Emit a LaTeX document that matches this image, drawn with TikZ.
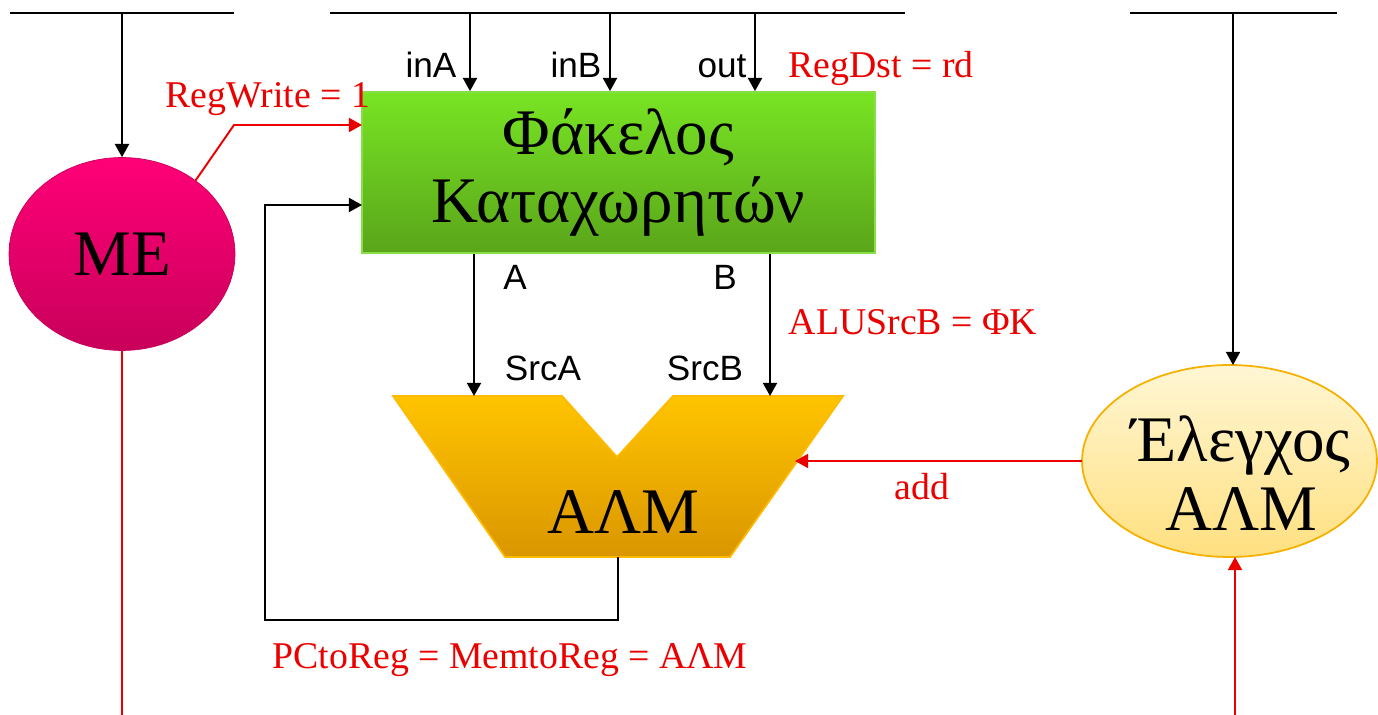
\documentclass[tikz,border=0pt]{standalone}
\usepackage{fontspec}
\setmainfont{Liberation Serif}
\setsansfont{Liberation Sans}
\usepackage{tikz}
\usetikzlibrary{arrows.meta,shapes.geometric}
\definecolor{meTop}{RGB}{255, 0, 119}
\definecolor{meBottom}{RGB}{200, 0, 90}
\definecolor{regTop}{RGB}{120, 228, 36}
\definecolor{regBottom}{RGB}{90, 165, 26}
\definecolor{regBorder}{RGB}{135, 222, 70}
\definecolor{aluTop}{RGB}{255, 196, 0}
\definecolor{aluBottom}{RGB}{218, 150, 0}
\definecolor{aluBorder}{RGB}{255, 186, 0}
\definecolor{ctlTop}{RGB}{255, 246, 212}
\definecolor{ctlBottom}{RGB}{255, 224, 128}
\definecolor{ctlBorder}{RGB}{245, 176, 0}
\definecolor{sigred}{RGB}{235, 0, 0}

\begin{document}
\begin{tikzpicture}[
  x=0.02cm, y=-0.02cm,
  bigtext/.style={font=\fontsize{37}{39}\selectfont, align=center, inner sep=0pt},
  mebox/.style={ellipse, bigtext, draw=meBottom, top color=meTop, bottom color=meBottom,
                minimum width=4.52cm, minimum height=3.86cm},
  regbox/.style={rectangle, bigtext, draw=regBorder, line width=1pt, top color=regTop,
                 bottom color=regBottom, minimum width=10.26cm, minimum height=3.22cm},
  ctlbox/.style={ellipse, draw=ctlBorder, line width=1pt, top color=ctlTop,
                 bottom color=ctlBottom, minimum width=5.9cm, minimum height=3.84cm,
                 inner sep=0pt, outer sep=0pt},
  alushape/.style={draw=aluBorder, line width=1pt, top color=aluTop, bottom color=aluBottom},
  bus/.style={line width=1.1pt},
  arrow/.style={-{Triangle[length=7.5pt,width=8pt]}, line width=1.1pt},
  redarrow/.style={arrow, draw=sigred},
  redline/.style={line width=1.1pt, draw=sigred},
  port/.style={font=\fontsize{20}{24}\sffamily, inner sep=0pt, anchor=base},
  sig/.style={font=\fontsize{21.5}{26}\selectfont, text=sigred, inner sep=0pt, anchor=base}
]
\useasboundingbox (0,0) rectangle (1378,715);

% buses
\draw[bus] (10,13) -- (234,13);
\draw[bus] (330,13) -- (905,13);
\draw[bus] (1130,13) -- (1337,13);

% blocks
\node[mebox] (me) at (122,254) {ME};
\node[regbox] (reg) at (618.5,172.5) {Φάκελος\\Καταχωρητών};
\node[ctlbox] (ctl) at (1229.5,461) {};
\node[bigtext] (ctltext) at (1241,473) {Έλεγχος\\ΑΛΜ};

\filldraw[alushape] (393,396) -- (562,396) -- (617,457) -- (673,396) -- (843,396)
  -- (730,557) -- (505,557) -- cycle;
\node[bigtext] (alu) at (623,512) {ΑΛΜ};

\coordinate (aluA) at (474,396);
\coordinate (aluB) at (770,396);
\coordinate (aluCtl) at (795,461);
\coordinate (aluOut) at (618,557);
\coordinate (regW) at (362,125);
\coordinate (regFb) at (362,205);
\coordinate (rwBend) at (234,125);
\coordinate (fbCorner) at (265,620);

% register file ports
\foreach \x/\n in {470/inA,610/inB,755/out}
  \draw[arrow] (\x,13) coordinate (tap\n) -- (reg.north -| tap\n);
\node[port] (inA) at (431,78) {inA};
\node[port] (inB) at (576,78) {inB};
\node[port] (out) at (722,78) {out};

\draw[arrow] (reg.south -| aluA) -- (aluA);
\draw[arrow] (reg.south -| aluB) -- (aluB);
\node[port] (portA) at (515,290) {A};
\node[port] (portB) at (725,290) {B};
\node[port] (srcA) at (543,381) {SrcA};
\node[port] (srcB) at (705,381) {SrcB};

% memory and feedback
\draw[arrow] (122,13) -- (me.north);
\draw[redline] (me.south) -- (122,715);
\draw[redarrow] (me.45) -- (rwBend) -- (regW);
\draw[arrow] (aluOut) |- (fbCorner) |- (regFb);

% ALU control
\draw[arrow] (1233,13) -- (ctl.north -| 1233,13);
\draw[redarrow] (ctl.west) -- (aluCtl);
\draw[redarrow] (1235,715) -- (ctl.south -| 1235,715);

% control signals
\node[sig] (regwrite) at (268,108) {RegWrite = 1};
\node[sig] (regdst) at (881,78) {RegDst = rd};
\node[sig] (alusrcb) at (913,335) {ALUSrcB = ΦΚ};
\node[sig] (aluop) at (922,500) {add};
\node[sig] (memtoreg) at (510,668) {PCtoReg = MemtoReg = ΑΛΜ};
\end{tikzpicture}
\end{document}
